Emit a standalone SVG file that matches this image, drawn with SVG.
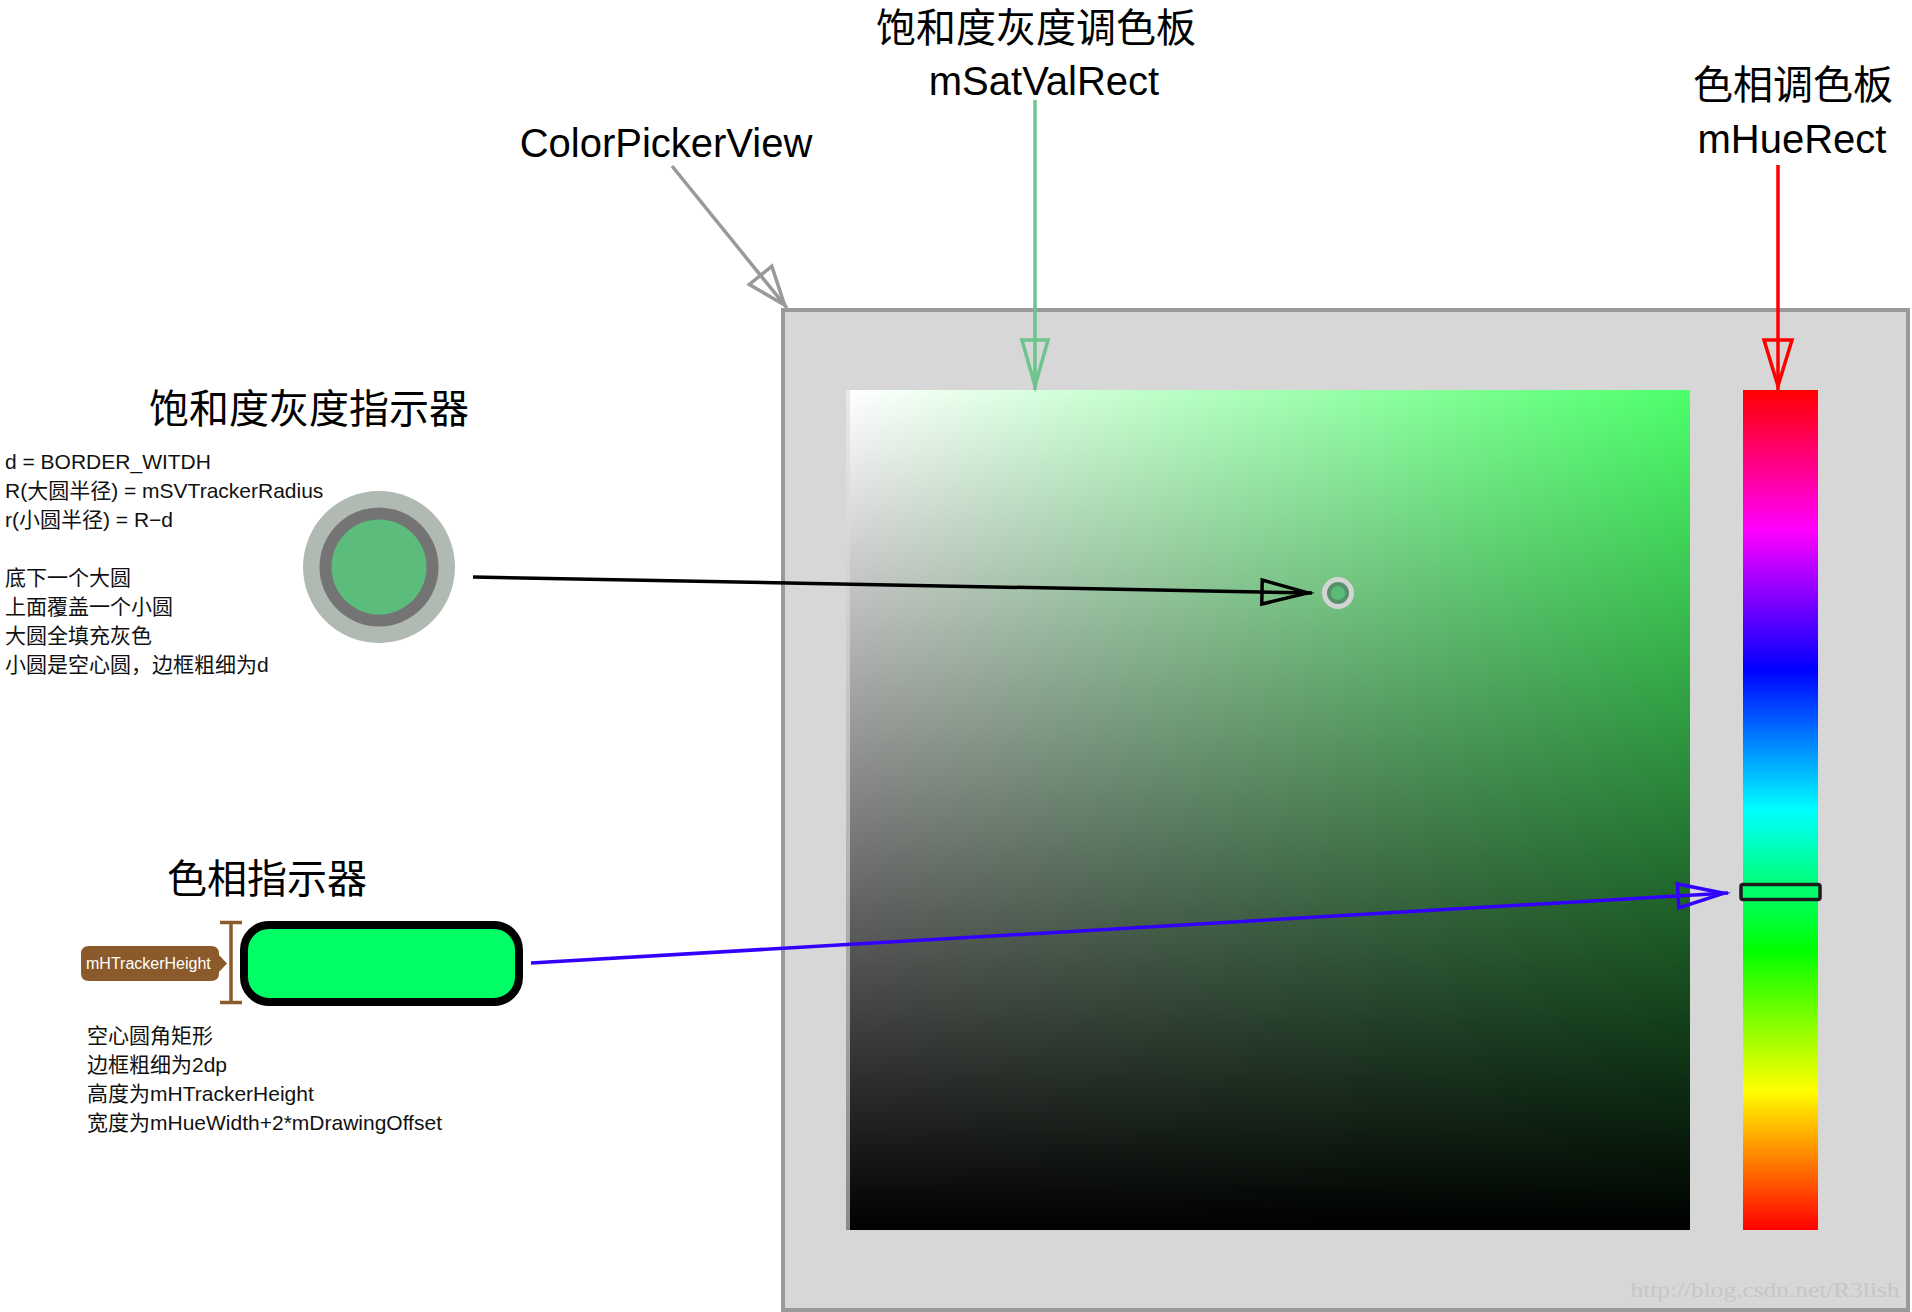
<svg xmlns="http://www.w3.org/2000/svg" width="1912" height="1312" viewBox="0 0 1912 1312">
<style>
  .title { font-family: "Liberation Sans", "Noto Sans CJK SC", sans-serif; font-size: 40px; fill: #000; text-anchor: middle; }
  .note { font-family: "Liberation Sans", "Noto Sans CJK SC", sans-serif; font-size: 21px; fill: #111; }
  .conn { fill: none; stroke-width: 3.5; stroke-linecap: butt; }
  .head { fill: none; stroke-width: 3.5; stroke-linejoin: miter; }
</style>
<defs>
  <linearGradient id="satGrad" x1="0" y1="0" x2="1" y2="0">
    <stop offset="0" stop-color="#ffffff"/>
    <stop offset="1" stop-color="#4cff6a"/>
  </linearGradient>
  <linearGradient id="valGrad" x1="0" y1="0" x2="0" y2="1">
    <stop offset="0" stop-color="#000" stop-opacity="0"/>
    <stop offset="1" stop-color="#000" stop-opacity="1"/>
  </linearGradient>
  <linearGradient id="edgeGrad" x1="0" y1="0" x2="0" y2="1">
    <stop offset="0" stop-color="#e8e8e8"/>
    <stop offset="1" stop-color="#8a8a8a"/>
  </linearGradient>
  <linearGradient id="hueGrad" x1="0" y1="0" x2="0" y2="1">
    <stop offset="0" stop-color="#ff0000"/>
    <stop offset="0.1667" stop-color="#ff00ff"/>
    <stop offset="0.3333" stop-color="#0000ff"/>
    <stop offset="0.5" stop-color="#00ffff"/>
    <stop offset="0.6667" stop-color="#00ff00"/>
    <stop offset="0.8333" stop-color="#ffff00"/>
    <stop offset="1" stop-color="#ff0000"/>
  </linearGradient>
  <marker id="hGray" markerUnits="userSpaceOnUse" markerWidth="60" markerHeight="40" refX="0" refY="0" orient="auto" overflow="visible">
    <path class="head" d="M-4,0 L-42,-14.5 L-42,14.5 Z" stroke="#999999"/>
  </marker>
  <marker id="hGreen" markerUnits="userSpaceOnUse" markerWidth="60" markerHeight="40" refX="0" refY="0" orient="auto" overflow="visible">
    <path class="head" d="M-4,0 L-50,-13 L-50,13 Z" stroke="#6cc58c"/>
  </marker>
  <marker id="hRed" markerUnits="userSpaceOnUse" markerWidth="60" markerHeight="40" refX="0" refY="0" orient="auto" overflow="visible">
    <path class="head" d="M-4,0 L-50,-14 L-50,14 Z" stroke="#ff0000"/>
  </marker>
  <marker id="hBlack" markerUnits="userSpaceOnUse" markerWidth="60" markerHeight="40" refX="0" refY="0" orient="auto" overflow="visible">
    <path class="head" d="M-4,0 L-50,-12 L-50,12 Z" stroke="#000000"/>
  </marker>
  <marker id="hBlue" markerUnits="userSpaceOnUse" markerWidth="60" markerHeight="40" refX="0" refY="0" orient="auto" overflow="visible">
    <path class="head" d="M-4,0 L-50,-12 L-50,12 Z" stroke="#3300ff"/>
  </marker>
</defs>

<rect width="1912" height="1312" fill="#ffffff"/>

<g id="color-picker-view">
  <rect x="783" y="310" width="1125" height="1000" fill="#d7d7d7" stroke="#9a9a9a" stroke-width="4"/>
  <text x="1765" y="1297" font-family="'Liberation Serif', serif" font-size="20" fill="#c6c6c6" text-anchor="middle" textLength="269" lengthAdjust="spacingAndGlyphs">http://blog.csdn.net/R3lish</text>
</g>

<g id="sat-val-rect">
  <rect x="846" y="390" width="4" height="840" fill="url(#edgeGrad)"/>
  <rect x="850" y="390" width="840" height="840" fill="url(#satGrad)"/>
  <rect x="850" y="390" width="840" height="840" fill="url(#valGrad)"/>
</g>

<g id="hue-rect">
  <rect x="1743" y="390" width="75" height="840" fill="url(#hueGrad)"/>
</g>

<g id="sv-tracker">
  <circle cx="1338" cy="593" r="16" fill="#d2d5d3"/>
  <circle cx="1338" cy="593" r="11" fill="#55906a"/>
  <circle cx="1338" cy="593" r="7" fill="#5dbb7a"/>
</g>

<g id="hue-tracker">
  <rect x="1741" y="884.5" width="79" height="15" rx="2" fill="#00ff6a" stroke="#1c1c1c" stroke-width="3.5"/>
</g>

<g id="label-colorpickerview">
  <text class="title" x="666" y="157">ColorPickerView</text>
</g>

<g id="label-satval">
  <text class="title" x="1036" y="42">饱和度灰度调色板</text>
  <text class="title" x="1044" y="95">mSatValRect</text>
</g>

<g id="label-hue">
  <text class="title" x="1793" y="99">色相调色板</text>
  <text class="title" x="1792" y="153">mHueRect</text>
</g>

<g id="sv-indicator">
  <text class="title" x="309" y="423">饱和度灰度指示器</text>
  <text class="note" x="5" y="469">d = BORDER_WITDH</text>
  <text class="note" x="5" y="498">R(大圆半径) = mSVTrackerRadius</text>
  <text class="note" x="5" y="527">r(小圆半径) = R−d</text>
  <text class="note" x="5" y="585">底下一个大圆</text>
  <text class="note" x="5" y="614">上面覆盖一个小圆</text>
  <text class="note" x="5" y="643">大圆全填充灰色</text>
  <text class="note" x="5" y="672">小圆是空心圆，边框粗细为d</text>
  <circle cx="379" cy="567" r="76" fill="#b1b9b3"/>
  <circle cx="379" cy="567" r="59.5" fill="#747474"/>
  <circle cx="379" cy="567" r="47.5" fill="#5cbc7b"/>
</g>

<g id="hue-indicator">
  <text class="title" x="267" y="893">色相指示器</text>
  <path d="M89,946 H211 Q219,946 219,954 V955 L227,963.5 L219,972 V973 Q219,981 211,981 H89 Q81,981 81,973 V954 Q81,946 89,946 Z" fill="#8b5a2b"/>
  <text x="86" y="969" font-family="'Liberation Sans', sans-serif" font-size="16" fill="#ffffff">mHTrackerHeight</text>
  <path d="M231,922.5 V1002.5 M220,922.5 H242 M220,1002.5 H242" fill="none" stroke="#8b5a2b" stroke-width="3.5"/>
  <rect x="244" y="925" width="275" height="77" rx="25" fill="#00ff66" stroke="#000000" stroke-width="8"/>
  <text class="note" x="87" y="1043">空心圆角矩形</text>
  <text class="note" x="87" y="1072">边框粗细为2dp</text>
  <text class="note" x="87" y="1101">高度为mHTrackerHeight</text>
  <text class="note" x="87" y="1130">宽度为mHueWidth+2*mDrawingOffset</text>
</g>

<g id="connectors">
  <path class="conn" d="M672,166 L787,308" stroke="#999999" marker-end="url(#hGray)"/>
  <path class="conn" d="M1035,100 L1035,390" stroke="#6cc58c" marker-end="url(#hGreen)"/>
  <path class="conn" d="M1778,165 L1778,390" stroke="#ff0000" marker-end="url(#hRed)"/>
  <path class="conn" d="M473,577 L1312,593" stroke="#000000" marker-end="url(#hBlack)"/>
  <path class="conn" d="M531,963 L1728,893" stroke="#3300ff" marker-end="url(#hBlue)"/>
</g>
</svg>
